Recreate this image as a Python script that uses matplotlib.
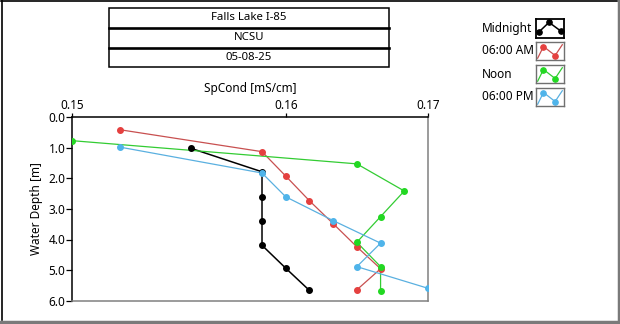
import numpy as np
import matplotlib
matplotlib.use('Agg')
import matplotlib.pyplot as plt
from matplotlib.patches import Rectangle
from matplotlib.lines import Line2D

plt.rcParams['font.family'] = ['Noto Sans', 'DejaVu Sans']

# profile data: depth [m] and specific conductance [mS/cm]
series_names = ['Midnight', '06:00 AM', 'Noon', '06:00 PM']
series_colors = ['#000000', '#e5403f', '#22d822', '#4fb4ea']
line_colors = ['#000000', '#c85050', '#33cc33', '#5ab0e0']

depth_mid = [1.01, 1.78, 2.62, 3.40, 4.19, 4.94, 5.67]
cond_mid = [0.156, 0.159, 0.159, 0.159, 0.159, 0.160, 0.161]

depth_6am = [0.40, 1.12, 1.92, 2.73, 3.48, 4.24, 4.96, 5.65]
cond_6am = [0.153, 0.159, 0.160, 0.161, 0.162, 0.163, 0.164, 0.163]

depth_noon = [0.76, 1.52, 2.41, 3.25, 4.09, 4.89, 5.68]
cond_noon = [0.151, 0.163, 0.165, 0.164, 0.163, 0.164, 0.164]

depth_6pm = [0.97, 1.82, 2.60, 3.38, 4.12, 4.89, 5.60]
cond_6pm = [0.153, 0.159, 0.160, 0.162, 0.164, 0.163, 0.166]

title_rows = ['Falls Lake I-85', 'NCSU', '05-08-25']

W, H = 620, 324
def fx(px):
    return px / W
def fy(py):
    return 1 - py / H

fig = plt.figure(figsize=(6.2, 3.24), dpi=100)
fig.patch.set_facecolor('white')

# panel border: dark top/left, grey bottom/right
fig.add_artist(Line2D([fx(1), fx(617)], [fy(1), fy(1)], color='black', lw=1.2))
fig.add_artist(Line2D([fx(1.5), fx(1.5)], [fy(1), fy(320)], color='black', lw=1.2))
fig.add_artist(Line2D([fx(618.5), fx(618.5)], [fy(0), fy(324)], color='#7a7a7a', lw=2.5))
fig.add_artist(Line2D([fx(0), fx(620)], [fy(321.5), fy(321.5)], color='#7a7a7a', lw=2.5))

# title table
tx0, tx1 = 109, 389
row_y = [8.3, 27.7, 47.7, 67.3]
fig.add_artist(Rectangle((fx(tx0), fy(row_y[-1])), fx(tx1) - fx(tx0), fy(row_y[0]) - fy(row_y[-1]),
                         fill=False, ec='black', lw=1.1))
for yy in row_y[1:3]:
    fig.add_artist(Line2D([fx(tx0), fx(tx1)], [fy(yy), fy(yy)], color='black', lw=1.9))
for i, txt in enumerate(title_rows):
    yc = (row_y[i] + row_y[i + 1]) / 2
    fig.text(fx((tx0 + tx1) / 2), fy(yc), txt, ha='center', va='center', fontsize=8.2)

# main plot
ax = fig.add_axes([fx(72.3), fy(300.5), fx(428) - fx(72.3), fy(117.5) - fy(300.5)])
all_depth = [depth_mid, depth_6am, depth_noon, depth_6pm]
all_cond = [cond_mid, cond_6am, cond_noon, cond_6pm]
for d, c, mc, lc in zip(all_depth, all_cond, series_colors, line_colors):
    lw = 1.1 if mc == '#000000' else 0.9
    ax.plot(c, d, '-', color=lc, lw=lw, zorder=2)
    ax.plot(c, d, 'o', color=mc, ms=4, mec=mc, zorder=3)

xmin = min(min(c) for c in all_cond)
xmax = max(max(c) for c in all_cond)
ax.set_xlim(xmin, xmax)
ax.set_ylim(6.0, 0.0)
ax.xaxis.tick_top()
ax.xaxis.set_label_position('top')
ax.set_xticks([xmin, 0.16, xmax])
ax.set_xticklabels(['%.2f' % v for v in [xmin, 0.16, xmax]])
ax.set_yticks(np.arange(0, 6.1, 1.0))
ax.set_yticklabels(['%.1f' % v for v in np.arange(0, 6.1, 1.0)])
ax.tick_params(axis='x', direction='out', length=3, width=0.9, labelsize=8.5, pad=1)
ax.tick_params(axis='y', direction='out', length=4, width=0.9, labelsize=8.5, pad=1)
ax.set_xlabel('SpCond [mS/cm]', fontsize=8.5, labelpad=5)
ax.set_ylabel('Water Depth [m]', fontsize=8.5, labelpad=4)
for s in ['top', 'left']:
    ax.spines[s].set_color('black')
    ax.spines[s].set_linewidth(1.1)
for s in ['bottom', 'right']:
    ax.spines[s].set_color('#808080')
    ax.spines[s].set_linewidth(1.1)

# legend: label text plus a small icon box per series
label_y = [28.3, 51, 74, 96]
box_y = [(19, 37.7), (42, 60), (65, 83), (88, 106)]
for i, name in enumerate(series_names):
    fig.text(fx(482), fy(label_y[i]), name, ha='left', va='center', fontsize=8.5)
    y0, y1 = box_y[i]
    iax = fig.add_axes([fx(536), fy(y1), fx(563.7) - fx(536), fy(y0) - fy(y1)])
    iax.set_xlim(0, 1)
    iax.set_ylim(0, 1)
    iax.set_xticks([])
    iax.set_yticks([])
    for s in iax.spines.values():
        s.set_color('black' if i == 0 else '#707070')
        s.set_linewidth(1.3 if i == 0 else 1.0)
    if i == 0:
        px = [0.1, 0.47, 0.9]
        py = [0.3, 0.82, 0.35]
        iax.plot(px, py, '-', color='black', lw=1.1)
        iax.plot(px, py, 'o', color='black', ms=3.8)
    else:
        px = [0.06, 0.27, 0.69, 0.95]
        py = [0.1, 0.75, 0.25, 0.85]
        iax.plot(px, py, '-', color=line_colors[i], lw=0.9)
        iax.plot(px[1:3], py[1:3], 'o', color=series_colors[i], ms=3.8)

fig.savefig('out.png', dpi=100)
